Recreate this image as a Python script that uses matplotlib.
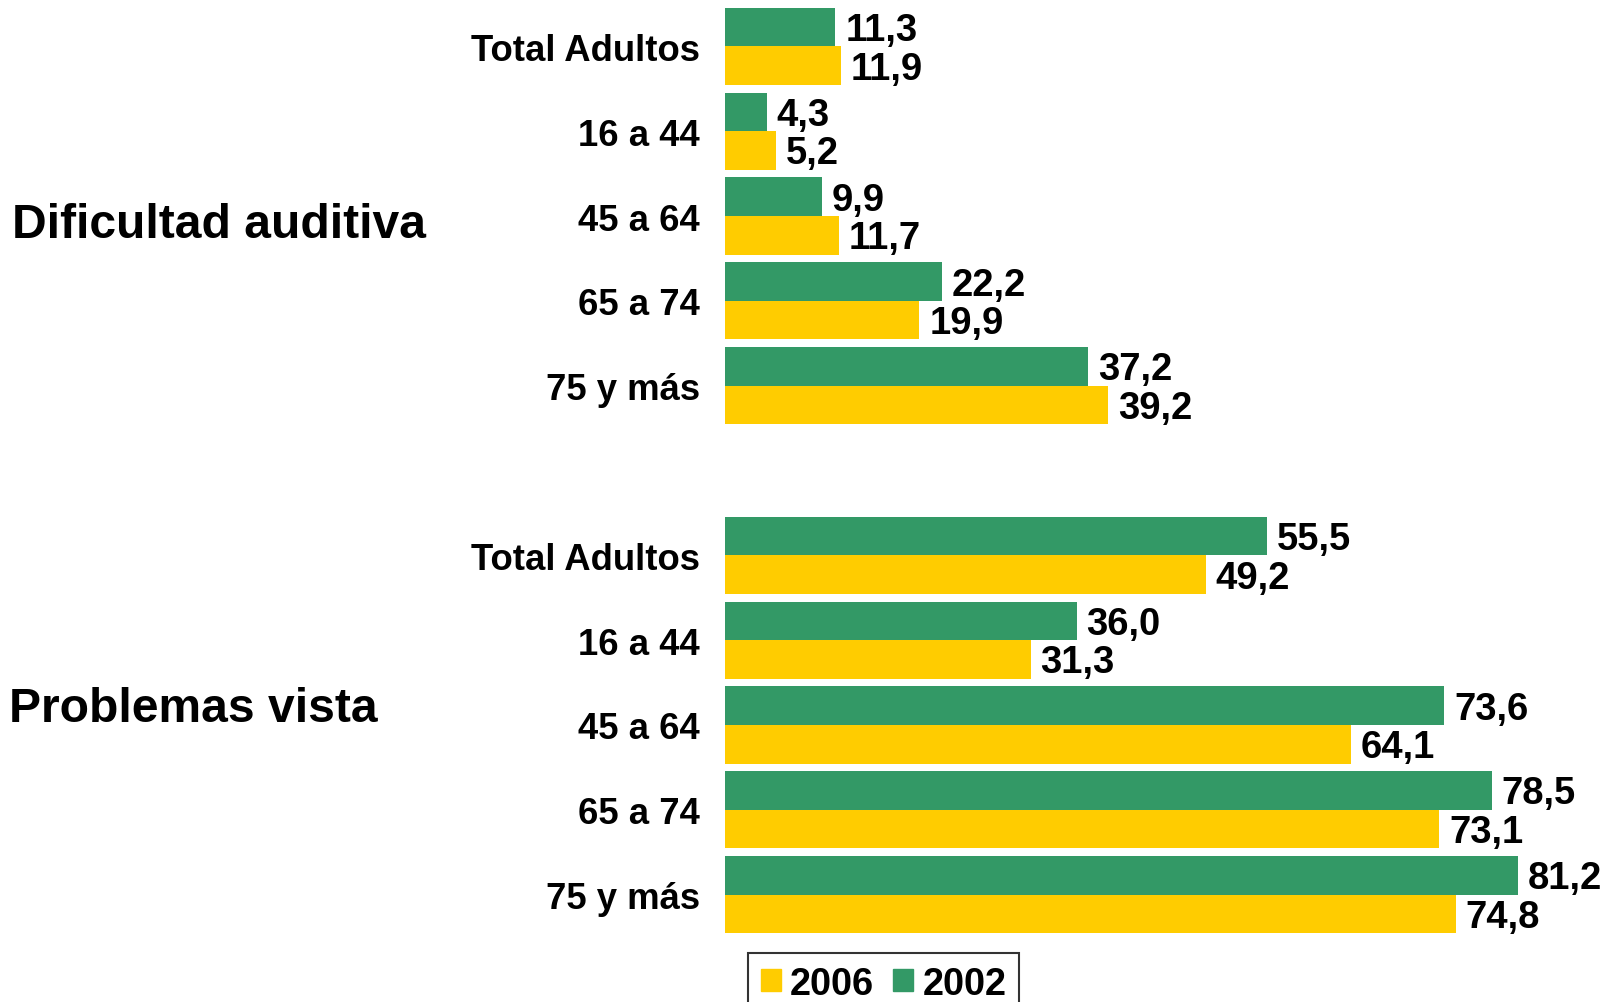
import numpy as np
import matplotlib
matplotlib.use("Agg")
import matplotlib.pyplot as plt
from matplotlib.patches import Patch

plt.rcParams['font.family'] = ['Liberation Sans', 'DejaVu Sans']
plt.rcParams['font.weight'] = 'bold'

# Daten
grupos = ['Total Adultos', '16 a 44', '45 a 64', '65 a 74', '75 y más']
secciones = ['Dificultad auditiva', 'Problemas vista']
auditiva_2002 = [11.3, 4.3, 9.9, 22.2, 37.2]
auditiva_2006 = [11.9, 5.2, 11.7, 19.9, 39.2]
vista_2002 = [55.5, 36.0, 73.6, 78.5, 81.2]
vista_2006 = [49.2, 31.3, 64.1, 73.1, 74.8]

verde = '#339966'
amarillo = '#FFCC00'

v2002 = auditiva_2002 + vista_2002
v2006 = auditiva_2006 + vista_2006
etiquetas = grupos + grupos
# Platz 5 bleibt leer als Abstand zwischen den Abschnitten
pos = np.array(list(range(5)) + list(range(6, 11)))

fig = plt.figure(figsize=(16.02, 10.03), dpi=100)
ax = fig.add_axes([725 / 1602, 1 - 938 / 1003, 855 / 1602, 933 / 1003])

h = 0.455
ax.barh(pos - h / 2, v2002, height=h, color=verde)
ax.barh(pos + h / 2, v2006, height=h, color=amarillo)

dy = 0.035  # Werte etwas tiefer als Balkenmitte
for p, a, b in zip(pos, v2002, v2006):
    ax.text(a + 1.0, p - h / 2 + dy, f'{a:.1f}'.replace('.', ','), va='center', ha='left',
            fontsize=27.5, fontweight='bold')
    ax.text(b + 1.0, p + h / 2 + dy, f'{b:.1f}'.replace('.', ','), va='center', ha='left',
            fontsize=27.5, fontweight='bold')

ax.set_ylim(10.5, -0.5)
ax.set_xlim(0, 87.5)
ax.set_yticks(pos)
ax.set_yticklabels(etiquetas, fontsize=26.3, fontweight='bold')
ax.tick_params(axis='y', length=0, pad=18)
ax.set_xticks([])
for s in ax.spines.values():
    s.set_visible(False)

fig.text(12 / 1602, 1 - 225 / 1003, secciones[0], fontsize=34.6, fontweight='bold', va='center', ha='left')
fig.text(9 / 1602, 1 - 709 / 1003, secciones[1], fontsize=34.6, fontweight='bold', va='center', ha='left')

handles = [Patch(color=amarillo, label='2006'), Patch(color=verde, label='2002')]
leg = fig.legend(handles=handles, loc='upper left', bbox_to_anchor=(748 / 1602, 1 - 954 / 1003),
                 ncol=2, frameon=True, fancybox=False, fontsize=27.3, handlelength=0.54,
                 handleheight=0.54, handletextpad=0.24, columnspacing=0.49, borderpad=0.33,
                 borderaxespad=0)
leg.get_frame().set_edgecolor('black')
leg.get_frame().set_linewidth(1.5)

fig.savefig('out.png', dpi=100)
